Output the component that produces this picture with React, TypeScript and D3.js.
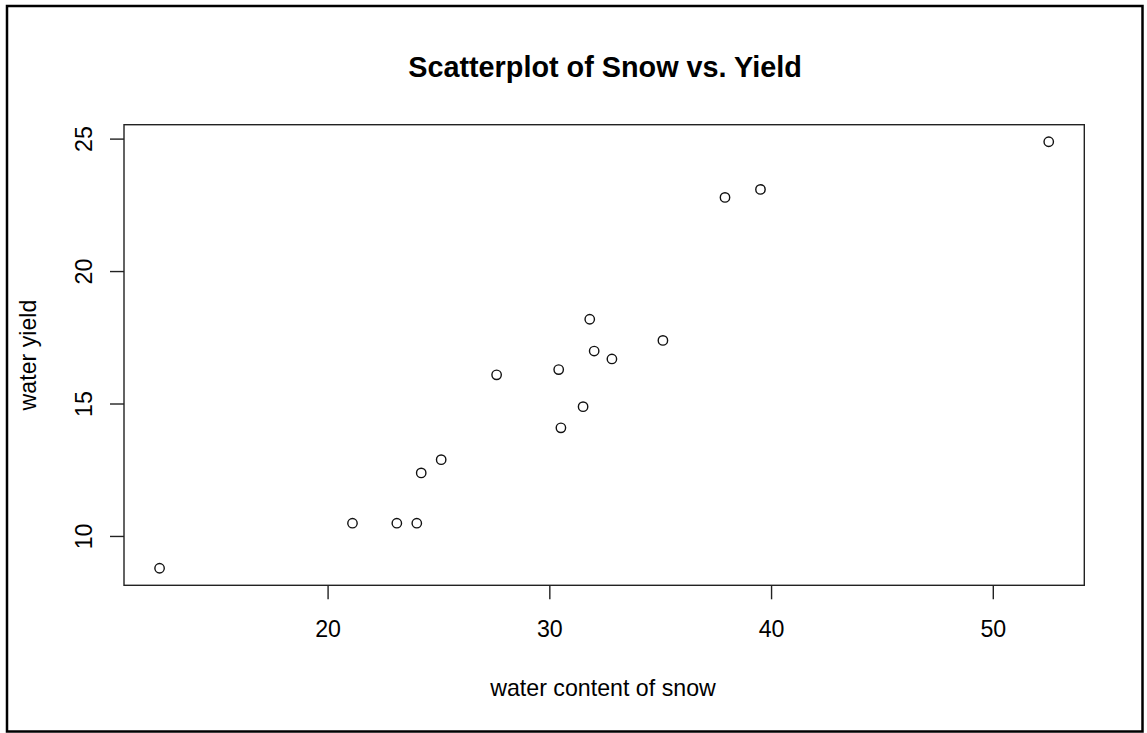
import React from "react";
import * as d3 from "d3";

const snow: number[] = [23.1, 32.8, 31.8, 32.0, 30.4, 24.0, 39.5, 24.2, 52.5, 37.9, 30.5, 25.1, 12.4, 35.1, 31.5, 21.1, 27.6];
const yieldVals: number[] = [10.5, 16.7, 18.2, 17.0, 16.3, 10.5, 23.1, 12.4, 24.9, 22.8, 14.1, 12.9, 8.8, 17.4, 14.9, 10.5, 16.1];
const xTicks: number[] = [20, 30, 40, 50];
const yTicks: number[] = [10, 15, 20, 25];
const title = "Scatterplot of Snow vs. Yield";
const xLabel = "water content of snow";
const yLabel = "water yield";

const W = 1147;
const H = 733;
const plot = { left: 124, right: 1084.3, top: 124.7, bottom: 585.3 };
const FONT = "'Liberation Sans', Arial, Helvetica, sans-serif";
const AXIS_FS = 23.2;
const TITLE_FS = 28.8;

function padded(vals: number[]): [number, number] {
  const mn = d3.min(vals) as number;
  const mx = d3.max(vals) as number;
  const r = mx - mn;
  return [mn - 0.04 * r, mx + 0.04 * r];
}

export default function App() {
  const x = d3.scaleLinear().domain(padded(snow)).range([plot.left, plot.right]);
  const y = d3.scaleLinear().domain(padded(yieldVals)).range([plot.bottom, plot.top]);
  const cx = (plot.left + plot.right) / 2;
  const cy = (plot.top + plot.bottom) / 2;
  const tickLen = 14;
  return (
    <svg
      width={W}
      height={H}
      style={{ position: "absolute", left: 0, top: 0, background: "#fff" }}
      fontFamily={FONT}
    >
      <rect x={0} y={0} width={W} height={H} fill="#fff" />
      <rect x={7} y={6} width={1135.5} height={725.5} fill="none" stroke="#000" strokeWidth={2.5} />
      <text x={605} y={76.5} textAnchor="middle" fontSize={TITLE_FS} fontWeight="bold" fill="#000">
        {title}
      </text>
      <rect
        x={plot.left}
        y={plot.top}
        width={plot.right - plot.left}
        height={plot.bottom - plot.top}
        fill="none"
        stroke="#222"
        strokeWidth={1.4}
      />
      {xTicks.map((t) => (
        <g key={"x" + t}>
          <line x1={x(t)} x2={x(t)} y1={plot.bottom} y2={plot.bottom + tickLen} stroke="#222" strokeWidth={1.4} />
          <text x={x(t)} y={636.5} textAnchor="middle" fontSize={AXIS_FS} fill="#000">
            {t}
          </text>
        </g>
      ))}
      {yTicks.map((t) => (
        <g key={"y" + t}>
          <line x1={plot.left - tickLen} x2={plot.left} y1={y(t)} y2={y(t)} stroke="#222" strokeWidth={1.4} />
          <text
            transform={`translate(91.5,${y(t)}) rotate(-90)`}
            textAnchor="middle"
            fontSize={AXIS_FS}
            fill="#000"
          >
            {t}
          </text>
        </g>
      ))}
      <text x={603} y={696} textAnchor="middle" fontSize={AXIS_FS} fill="#000">
        {xLabel}
      </text>
      <text transform={`translate(35.5,${cy}) rotate(-90)`} textAnchor="middle" fontSize={AXIS_FS} fill="#000">
        {yLabel}
      </text>
      {snow.map((s, i) => (
        <circle key={i} cx={x(s)} cy={y(yieldVals[i])} r={4.7} fill="none" stroke="#111" strokeWidth={1.4} />
      ))}
    </svg>
  );
}
